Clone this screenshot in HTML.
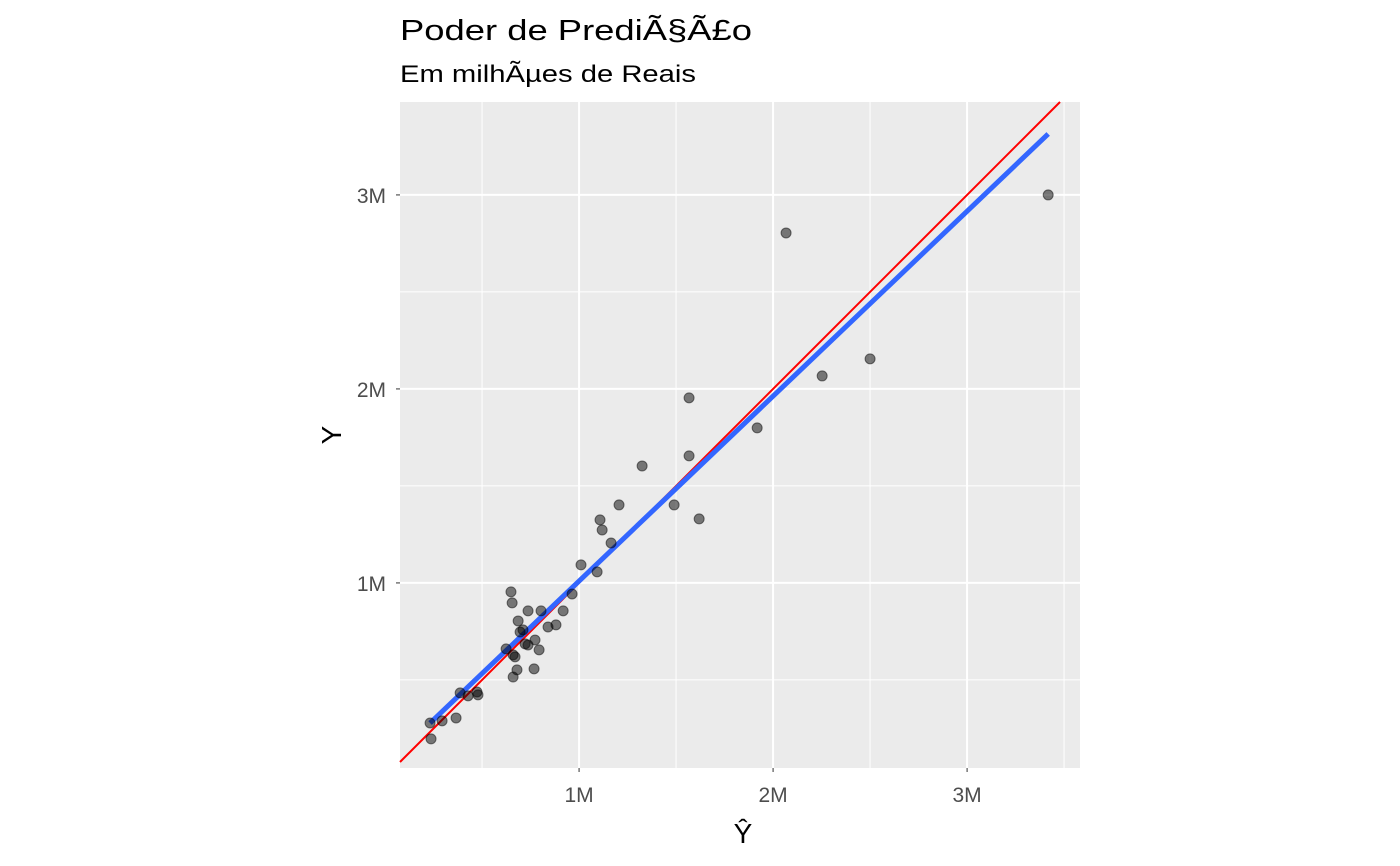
<!DOCTYPE html>
<html><head><meta charset="utf-8"><style>
html,body{margin:0;padding:0;background:#fff;width:1400px;height:866px;overflow:hidden}
text{font-family:"Liberation Sans",Arial,sans-serif}
</style></head><body>
<svg id="chart" width="1400" height="866" xmlns="http://www.w3.org/2000/svg">
<text x="400" y="40" font-size="29" textLength="352" lengthAdjust="spacingAndGlyphs" fill="#000">Poder de PrediÃ§Ã£o</text>
<text x="400" y="82" font-size="24" textLength="296" lengthAdjust="spacingAndGlyphs" fill="#000">Em milhÃµes de Reais</text>
<rect x="400" y="102" width="680" height="666" fill="#ebebeb"/>
<g id="grid"></g><g id="lines"></g><g id="points"></g><g id="axes"></g>
<text x="743" y="843" font-size="28" text-anchor="middle" fill="#000">Ŷ</text>
<text transform="translate(341,435) rotate(-90)" font-size="28" text-anchor="middle" fill="#000">Y</text>
</svg>
<script>
const xVals=[0.237,0.232,0.294,0.366,0.387,0.428,0.474,0.479,0.649,0.655,0.737,0.804,0.918,0.686,0.840,0.881,0.696,0.711,0.773,0.722,0.737,0.624,0.794,0.660,0.670,0.680,0.768,0.660,0.964,1.010,1.093,1.119,1.108,1.165,1.206,1.325,1.490,1.567,1.567,1.619,1.918,2.067,2.253,2.500,3.418];
const yVals=[0.196,0.278,0.289,0.304,0.433,0.418,0.438,0.423,0.954,0.897,0.856,0.856,0.856,0.804,0.773,0.784,0.747,0.758,0.706,0.686,0.680,0.660,0.655,0.629,0.619,0.552,0.557,0.515,0.943,1.093,1.057,1.273,1.325,1.206,1.402,1.603,1.402,1.954,1.655,1.330,1.799,2.804,2.067,2.155,3.000];
const xTicks=[1,2,3];
const yTicks=[1,2,3];
const tickLabels=["1M","2M","3M"];
const minorTicks=[0.5,1.5,2.5,3.5];
const xDomain=[0.077,3.582], yDomain=[0.046,3.479];
const L=400,R=1080,T=102,B=768;
const sx=v=>L+(v-xDomain[0])/(xDomain[1]-xDomain[0])*(R-L);
const sy=v=>B-(v-yDomain[0])/(yDomain[1]-yDomain[0])*(B-T);
const NS="http://www.w3.org/2000/svg";
function mk(p,tag,a){const e=document.createElementNS(NS,tag);for(const k in a)e.setAttribute(k,a[k]);document.getElementById(p).appendChild(e);return e;}
minorTicks.forEach(t=>{
  if(t<xDomain[1]){const e=mk('grid','line',{x1:sx(t),x2:sx(t),y1:T,y2:B,stroke:'#fff','stroke-width':1});
  }
  if(t<yDomain[1]){const e=mk('grid','line',{x1:L,x2:R,y1:sy(t),y2:sy(t),stroke:'#fff','stroke-width':1});
  }
});
xTicks.forEach((t,i)=>{
  const g=mk('grid','line',{x1:sx(t),x2:sx(t),y1:T,y2:B,stroke:'#fff','stroke-width':2});
  
  const k=mk('axes','line',{x1:sx(t),x2:sx(t),y1:B,y2:B+4,stroke:'#333','stroke-width':1});
  
  const l=mk('axes','text',{x:sx(t),y:B+34,'font-size':21,fill:'#4d4d4d','text-anchor':'middle'});
  l.textContent=tickLabels[i];
  
});
yTicks.forEach((t,i)=>{
  const g=mk('grid','line',{x1:L,x2:R,y1:sy(t),y2:sy(t),stroke:'#fff','stroke-width':2});
  
  const k=mk('axes','line',{x1:L-4,x2:L,y1:sy(t),y2:sy(t),stroke:'#333','stroke-width':1});
  
  const l=mk('axes','text',{x:L-14,y:sy(t)+8,'font-size':21,fill:'#4d4d4d','text-anchor':'end'});
  l.textContent=tickLabels[i];
  
});
const lo=Math.max(xDomain[0],yDomain[0]), hi=Math.min(xDomain[1],yDomain[1]);
const id=mk('lines','line',{x1:sx(lo),y1:sy(lo),x2:sx(hi),y2:sy(hi),stroke:'#ff0000','stroke-width':2});

xVals.forEach((x,i)=>{
  const c=mk('points','circle',{cx:sx(x),cy:sy(yVals[i]),r:5,fill:'rgba(0,0,0,0.5)',stroke:'rgba(0,0,0,0.5)','stroke-width':1});
  
});
const n=xVals.length,mx=xVals.reduce((a,b)=>a+b)/n,my=yVals.reduce((a,b)=>a+b)/n;
let sxy=0,sxx=0;xVals.forEach((x,i)=>{sxy+=(x-mx)*(yVals[i]-my);sxx+=(x-mx)*(x-mx);});
const b1=sxy/sxx,b0=my-b1*mx,x0=Math.min(...xVals),x1=Math.max(...xVals);
const f=mk('lines','line',{x1:sx(x0),y1:sy(b0+b1*x0),x2:sx(x1),y2:sy(b0+b1*x1),stroke:'#3366ff','stroke-width':5});

document.getElementById('lines').appendChild(f);
</script>
</body></html>
